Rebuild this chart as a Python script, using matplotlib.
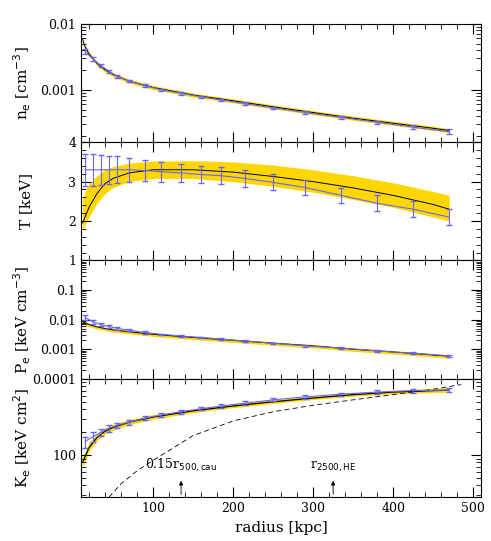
import matplotlib
matplotlib.use("Agg")
import matplotlib.pyplot as plt
import numpy as np

plt.rcParams['font.family'] = ['DejaVu Serif']
plt.rcParams['font.size'] = 10

# data points
r_pts = [15, 25, 35, 45, 55, 70, 90, 110, 135, 160, 185, 215, 250, 290, 335, 380, 425, 470]
ne_pts = [0.0038, 0.0029, 0.0023, 0.0019, 0.0016, 0.00135, 0.00115, 0.001, 0.00088, 0.00078, 0.0007, 0.00061, 0.00053, 0.00045, 0.00038, 0.00032, 0.00027, 0.00023]
ne_err = [0.0003, 0.0002, 0.00012, 0.0001, 0.00008, 0.00006, 0.00005, 0.00004, 0.00004, 0.00003, 0.00003, 0.00003, 0.00002, 0.00002, 0.00002, 0.00002, 0.00002, 0.00002]
T_pts = [3.3, 3.3, 3.3, 3.3, 3.3, 3.3, 3.28, 3.25, 3.22, 3.18, 3.15, 3.08, 2.98, 2.85, 2.65, 2.45, 2.3, 2.1]
T_err = [0.4, 0.4, 0.38, 0.36, 0.34, 0.3, 0.27, 0.25, 0.22, 0.22, 0.22, 0.22, 0.2, 0.2, 0.2, 0.2, 0.2, 0.2]
P_pts = [0.012, 0.0085, 0.0068, 0.0058, 0.0051, 0.0044, 0.0037, 0.0032, 0.0028, 0.0025, 0.0022, 0.0019, 0.0016, 0.0013, 0.0011, 0.00088, 0.00073, 0.0006]
P_err = [0.0025, 0.0012, 0.0008, 0.0006, 0.0005, 0.0004, 0.0003, 0.0002, 0.0002, 0.00015, 0.00012, 0.0001, 0.00008, 0.00007, 0.00006, 0.00005, 0.00005, 0.00005]
K_pts = [150, 175, 200, 225, 245, 270, 305, 335, 370, 405, 440, 480, 530, 580, 630, 670, 700, 710]
K_err = [25, 25, 22, 22, 20, 20, 20, 20, 20, 20, 22, 25, 25, 28, 30, 35, 40, 40]

# model curves
r_mod = [12, 15, 20, 30, 40, 50, 70, 100, 150, 200, 250, 300, 350, 400, 450, 470]
ne_mod = [0.0058, 0.0045, 0.0035, 0.0025, 0.002, 0.0017, 0.00135, 0.00108, 0.00083, 0.00068, 0.00055, 0.00045, 0.00037, 0.00031, 0.00026, 0.00024]
T_mod = [1.95, 2.1, 2.35, 2.7, 2.95, 3.08, 3.22, 3.3, 3.3, 3.24, 3.13, 3.0, 2.84, 2.65, 2.42, 2.3]
T_lo = [1.75, 1.9, 2.1, 2.45, 2.7, 2.85, 3.0, 3.08, 3.08, 3.0, 2.88, 2.73, 2.55, 2.35, 2.1, 2.0]
T_hi = [2.55, 2.75, 2.95, 3.15, 3.3, 3.38, 3.47, 3.52, 3.53, 3.5, 3.42, 3.3, 3.15, 2.97, 2.75, 2.65]
P_mod = [0.0085, 0.0078, 0.0068, 0.0057, 0.005, 0.0045, 0.0039, 0.0032, 0.0025, 0.002, 0.0016, 0.0013, 0.001, 0.00081, 0.00064, 0.00058]
K_mod = [80, 95, 125, 170, 205, 230, 270, 315, 380, 440, 500, 560, 620, 670, 700, 710]
K_lo = [70, 82, 112, 155, 188, 212, 250, 295, 360, 418, 475, 535, 590, 635, 660, 665]
K_hi = [95, 110, 145, 192, 228, 253, 293, 340, 405, 468, 530, 590, 655, 710, 750, 765]
K_base_r = [45, 60, 80, 100, 150, 200, 250, 300, 350, 400, 450, 485]
K_base = [28, 42, 62, 85, 180, 280, 370, 450, 530, 620, 730, 840]

gold = '#FFD700'
blue = '#6666ff'

fig = plt.figure(figsize=(4.91, 5.41), dpi=100)
gs = fig.add_gridspec(4, 1, left=0.165, right=0.98, bottom=0.081, top=0.956, hspace=0)
axs = [fig.add_subplot(gs[i]) for i in range(4)]

def band(ax, lo, hi):
    ax.fill_between(r_mod, lo, hi, color=gold, lw=0)

ne_mod_a = np.array(ne_mod)
band(axs[0], ne_mod_a * 0.93, ne_mod_a * 1.07)
axs[0].plot(r_mod, ne_mod, color='k', lw=0.7)
axs[0].errorbar(r_pts, ne_pts, yerr=ne_err, color=blue, lw=0.8, capsize=2)
axs[0].set_yscale('log')
axs[0].set_ylim(1.6e-4, 0.01)
axs[0].set_yticks([0.001, 0.01])
axs[0].set_yticklabels(['0.001', '0.01'])
axs[0].set_ylabel(r'n$_{\rm e}$ [cm$^{-3}$]', fontsize=11)

band(axs[1], T_lo, T_hi)
axs[1].plot(r_mod, T_mod, color='k', lw=0.7)
axs[1].errorbar(r_pts, T_pts, yerr=T_err, color=blue, lw=0.8, capsize=2)
axs[1].set_ylim(1, 4)
axs[1].set_yticks([1, 2, 3, 4])
axs[1].set_ylabel('T [keV]', fontsize=11)

P_mod_a = np.array(P_mod)
band(axs[2], P_mod_a * 0.85, P_mod_a * 1.12)
axs[2].plot(r_mod, P_mod, color='k', lw=0.7)
axs[2].errorbar(r_pts, P_pts, yerr=P_err, color=blue, lw=0.8, capsize=2)
axs[2].set_yscale('log')
axs[2].set_ylim(1e-4, 1)
axs[2].set_yticks([1e-4, 1e-3, 1e-2, 1e-1])
axs[2].set_yticklabels(['0.0001', '0.001', '0.01', '0.1'])
axs[2].set_ylabel(r'P$_{\rm e}$ [keV cm$^{-3}$]', fontsize=11)

band(axs[3], K_lo, K_hi)
axs[3].plot(r_mod, K_mod, color='k', lw=0.9)
axs[3].errorbar(r_pts, K_pts, yerr=K_err, color=blue, lw=0.8, capsize=2)
axs[3].plot(K_base_r, K_base, 'k--', lw=0.6, dashes=(6, 4))
axs[3].set_yscale('log')
axs[3].set_ylim(28, 1000)
axs[3].set_yticks([100])
axs[3].set_yticklabels(['100'])
axs[3].set_ylabel(r'K$_{\rm e}$ [keV cm$^{2}$]', fontsize=11)
axs[3].set_xlabel('radius [kpc]', fontsize=11)
for xr, lab in [(135, r'0.15r$_{\rm 500,cau}$'), (325, r'r$_{\rm 2500,HE}$')]:
    axs[3].annotate('', xy=(xr, 50), xytext=(xr, 28),
                    arrowprops=dict(arrowstyle='-|>', color='k', lw=0.6, mutation_scale=6))
    axs[3].text(xr, 56, lab, ha='center', va='bottom', fontsize=9)

for i, ax in enumerate(axs):
    ax.set_xlim(10, 510)
    ax.set_xticks([100, 200, 300, 400, 500])
    ax.xaxis.set_minor_locator(matplotlib.ticker.MultipleLocator(20))
    if ax.get_yscale() == 'linear':
        ax.yaxis.set_minor_locator(matplotlib.ticker.MultipleLocator(0.2))
    ax.tick_params(which='both', direction='in', top=True, right=True, labelsize=9)
    ax.tick_params(which='major', length=7)
    ax.tick_params(which='minor', length=3.5)
    for s in ax.spines.values():
        s.set_linewidth(0.8)
    ax.yaxis.set_label_coords(-0.12, 0.5)
    if i < 3:
        ax.tick_params(labelbottom=False)

fig.savefig('out.png', dpi=100)
